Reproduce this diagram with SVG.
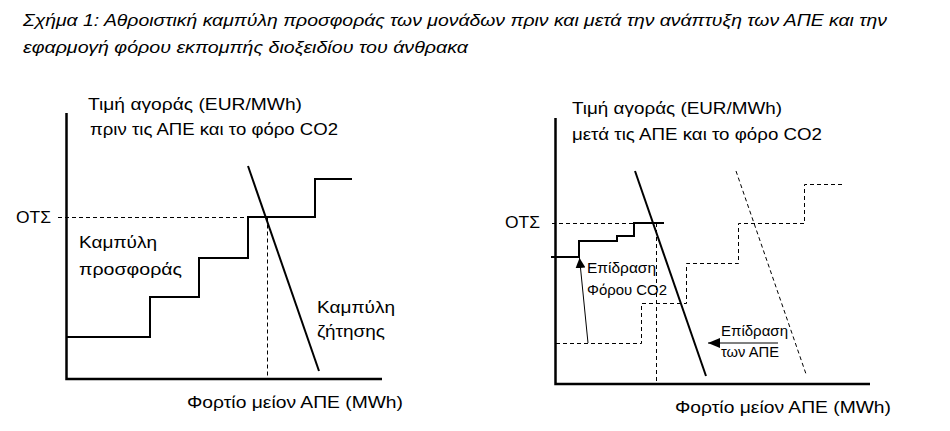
<svg xmlns="http://www.w3.org/2000/svg" width="950" height="431" viewBox="0 0 950 431">
<style>
text{font-family:"Liberation Sans",Arial,sans-serif;fill:#000}
.t{font-size:17px;font-style:italic}
.l{font-size:17px}
.s{font-size:14px}
.ax{stroke:#000;stroke-width:2.5;fill:none}
.sol{stroke:#000;stroke-width:2;fill:none}
.dash{stroke:#000;stroke-width:1;fill:none;stroke-dasharray:4 3}
.thin{stroke:#000;stroke-width:1;fill:none}
</style>
<defs>
<marker id="ah" viewBox="0 0 10 10" refX="10" refY="5" markerWidth="10" markerHeight="10" markerUnits="userSpaceOnUse" orient="auto">
<path d="M0,0 L10,5 L0,10 Z" fill="#000"/>
</marker>
<marker id="ah2" viewBox="0 0 12 10" refX="12" refY="5" markerWidth="12" markerHeight="10" markerUnits="userSpaceOnUse" orient="auto">
<path d="M0,0 L12,5 L0,10 Z" fill="#000"/>
</marker>
</defs>
<g id="title">
<text class="t" x="23" y="26" textLength="864" lengthAdjust="spacingAndGlyphs">Σχήμα 1: Αθροιστική καμπύλη προσφοράς των μονάδων πριν και μετά την ανάπτυξη των ΑΠΕ και την</text>
<text class="t" x="23" y="53" textLength="445" lengthAdjust="spacingAndGlyphs">εφαρμογή φόρου εκπομπής διοξειδίου του άνθρακα</text>
</g>
<g id="left-chart">
<g id="left-axes">
<path class="ax" d="M66.5,113 V379 H382"/>
<text class="l" x="88" y="110" textLength="214" lengthAdjust="spacingAndGlyphs">Τιμή αγοράς (EUR/MWh)</text>
<text class="l" x="90" y="135" textLength="248" lengthAdjust="spacingAndGlyphs">πριν τις ΑΠΕ και το φόρο CO2</text>
<text class="l" x="187" y="408" textLength="216" lengthAdjust="spacingAndGlyphs">Φορτίο μείον ΑΠΕ (MWh)</text>
<text class="l" x="16" y="223" textLength="35" lengthAdjust="spacingAndGlyphs">ΟΤΣ</text>
</g>
<g id="left-lines">
<path class="dash" d="M58,217.5 H267 M267.5,217.5 V379"/>
<path id="left-supply" class="sol" d="M66,337 H150 V297 H199 V258 H248 V217 H315 V179 H352"/>
<path id="left-demand" class="sol" d="M248,166 L319,371"/>
</g>
<text class="l" x="79" y="248" textLength="78" lengthAdjust="spacingAndGlyphs">Καμπύλη</text>
<text class="l" x="79" y="275" textLength="103" lengthAdjust="spacingAndGlyphs">προσφοράς</text>
<text class="l" x="317" y="313" textLength="78" lengthAdjust="spacingAndGlyphs">Καμπύλη</text>
<text class="l" x="317" y="337" textLength="68" lengthAdjust="spacingAndGlyphs">ζήτησης</text>
</g>
<g id="right-chart">
<g id="right-axes">
<path class="ax" d="M555.5,118 V384 H870"/>
<text class="l" x="572" y="114" textLength="210" lengthAdjust="spacingAndGlyphs">Τιμή αγοράς (EUR/MWh)</text>
<text class="l" x="572" y="140" textLength="250" lengthAdjust="spacingAndGlyphs">μετά τις ΑΠΕ και το φόρο CO2</text>
<text class="l" x="675" y="413" textLength="216" lengthAdjust="spacingAndGlyphs">Φορτίο μείον ΑΠΕ (MWh)</text>
<text class="l" x="505" y="228" textLength="35" lengthAdjust="spacingAndGlyphs">ΟΤΣ</text>
</g>
<g id="right-lines">
<path class="dash" d="M552,223.5 H652 M656.5,223 V384"/>
<path id="old-supply" class="dash" d="M556,343.5 H641.5 V303.5 H686.5 V263.5 H738.5 V223.5 H804.5 V184.5 H842"/>
<path id="old-demand" class="dash" d="M736,171 L806,374"/>
<path id="new-supply" class="sol" d="M551,257 H579 V241 H617 V236 H634 V223 H664"/>
<path id="new-demand" class="sol" d="M635,171 L706,376"/>
</g>
<g id="co2-effect">
<path class="thin" d="M588,343 L579.5,258" marker-end="url(#ah)"/>
<text class="s" x="587" y="273" textLength="69" lengthAdjust="spacingAndGlyphs">Επίδραση</text>
<text class="s" x="587" y="295" textLength="80" lengthAdjust="spacingAndGlyphs">Φόρου CO2</text>
</g>
<g id="res-effect">
<path class="thin" d="M778,343 L708,343" marker-end="url(#ah2)"/>
<text class="s" x="721" y="336" textLength="67" lengthAdjust="spacingAndGlyphs">Επίδραση</text>
<text class="s" x="721" y="357" textLength="58" lengthAdjust="spacingAndGlyphs">των ΑΠΕ</text>
</g>
</g>
</svg>
